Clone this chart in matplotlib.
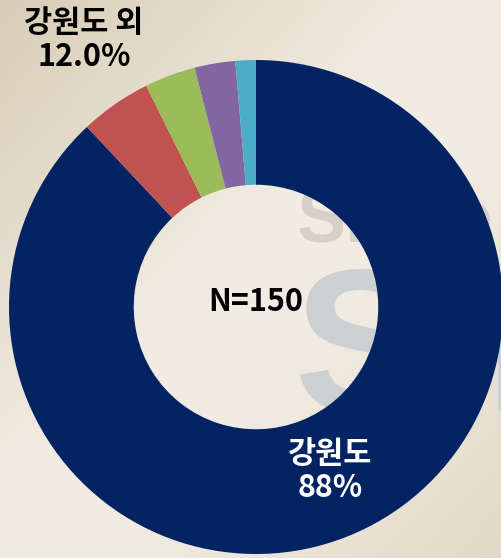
import matplotlib
matplotlib.use("Agg")
import matplotlib.pyplot as plt
import numpy as np
from matplotlib.colors import LinearSegmentedColormap

plt.rcParams['font.family'] = ['Noto Sans CJK KR', 'DejaVu Sans']

# respondents by region (N=150)
regions = ["강원도", "기타1", "기타2", "기타3", "기타4"]
counts = [132, 7, 5, 4, 2]
colors = ["#002060", "#c0504d", "#9bbb59", "#8064a2", "#4bacc6"]
main_label = "강원도"
other_label = "강원도 외"

total = sum(counts)
main_pct = counts[0] / total * 100
other_pct = 100 - main_pct

W, H = 502, 558
fig = plt.figure(figsize=(W / 100, H / 100), dpi=100)

# ── background: soft beige diagonal gradient ──
ax_bg = fig.add_axes([0, 0, 1, 1])
ax_bg.set_axis_off()
bg_cmap = LinearSegmentedColormap.from_list(
    "bg", [(0.0, "#d8cdb6"), (0.45, "#f1ece3"), (0.6, "#f1ece3"), (1.0, "#e3d9c6")])
gx, gy = np.meshgrid(np.linspace(0, 1, 200), np.linspace(0, 1, 220))
ax_bg.imshow((gx + gy) / 2, cmap=bg_cmap, aspect="auto", extent=[0, 1, 0, 1],
             origin="upper", vmin=0, vmax=1)
ax_bg.set_xlim(0, 1)
ax_bg.set_ylim(0, 1)

# faint watermark behind the donut (clipped to the figure like the original)
ax_bg.text(297 / W, 1 - 242 / H, "Since", fontsize=53, fontweight="bold",
           color="#d6d1c8", family=["Liberation Sans", "DejaVu Sans"],
           ha="left", va="baseline", clip_on=True)
ax_bg.text(293 / W, 1 - 411 / H, "SIL", fontsize=146, fontweight="bold",
           color="#cdd0d2", family=["Liberation Sans Narrow", "Liberation Sans"],
           ha="left", va="baseline", clip_on=True)

# ── donut ──
cx, cy, r = 256, 307, 247
ax = fig.add_axes([(cx - r) / W, (H - cy - r) / H, 2 * r / W, 2 * r / H])
ax.set_axis_off()
ax.pie(counts, colors=colors, startangle=90, counterclock=False, radius=1.0,
       wedgeprops=dict(width=0.505, linewidth=0, alpha=0.985))
ax.set_xlim(-1, 1)
ax.set_ylim(-1, 1)

ax.text(0, 0.02, f"N={total}", ha="center", va="center",
        fontsize=22, fontweight="bold", color="black")

fig.text(84 / W, 1 - 40 / H, f"{other_label}\n{other_pct:.1f}%", ha="center", va="center",
         fontsize=22, fontweight="bold", color="black", linespacing=1.1)
fig.text(330 / W, 1 - 471 / H, f"{main_label}\n{main_pct:.0f}%", ha="center", va="center",
         fontsize=22, fontweight="bold", color="white", linespacing=1.1)

fig.savefig("out.png", dpi=100)
